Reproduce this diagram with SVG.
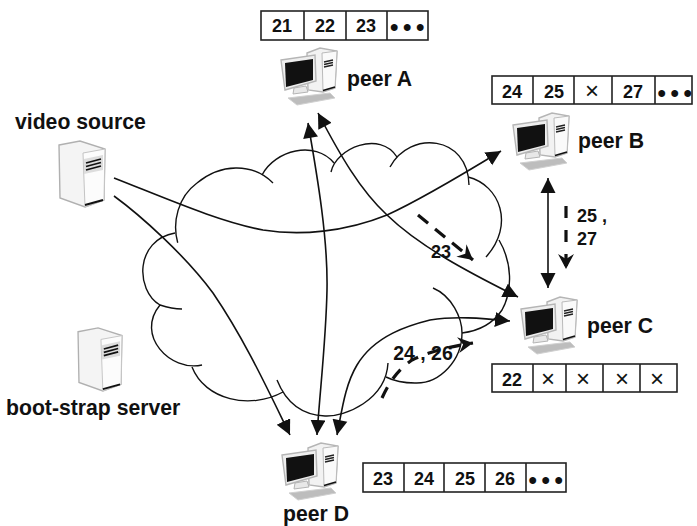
<svg xmlns="http://www.w3.org/2000/svg" xmlns:xlink="http://www.w3.org/1999/xlink" width="697" height="526" viewBox="0 0 697 526">
<style>
text{font-family:"Liberation Sans",Arial,sans-serif;fill:#111}
.lbl{font-size:21.200px;font-weight:bold}
.num{font-size:18px;font-weight:bold;text-anchor:middle}
.x{font-size:24px;font-weight:normal;text-anchor:middle}
.dots{font-size:24px;font-weight:bold;text-anchor:middle;letter-spacing:4.600px}
.cell{fill:#fff;stroke:#222;stroke-width:1.6}
.div{stroke:#222;stroke-width:1.6}
.cloud path{fill:none;stroke:#111;stroke-width:1.4}
.arrow{fill:none;stroke:#111;stroke-width:1.6}
.dash{fill:none;stroke:#111;stroke-width:3.2}
</style>
<defs>
<marker id="head" markerUnits="userSpaceOnUse" markerWidth="16" markerHeight="16" refX="15" refY="7.5" orient="auto" viewBox="0 0 16 16">
<path d="M0,0L15,7.5L0,15z" fill="#111"/>
</marker>
<marker id="headS" markerUnits="userSpaceOnUse" markerWidth="16" markerHeight="16" refX="0" refY="7.5" orient="auto" viewBox="0 0 16 16">
<path d="M15,0L0,7.5L15,15z" fill="#111"/>
</marker>
<marker id="chev" markerUnits="userSpaceOnUse" markerWidth="18" markerHeight="18" refX="15" refY="8" orient="auto" viewBox="0 0 18 18">
<path d="M0,0L15,8L0,16L5,8z" fill="#111"/>
</marker>
<symbol id="pc" width="57" height="59" viewBox="0 0 57 59" overflow="visible">
<path d="M27,5L40,0L57,3L55,40L43,44L28,42z" fill="#f2f2f2" stroke="#b5b5b5" stroke-width="1.4"/>
<path d="M42,5L57,3L55,40L43,43z" fill="#fafafa" stroke="#bbb" stroke-width="1"/>
<path d="M44,14L53,12M44,16.500L53,14.500M44,19L53,17" stroke="#222" stroke-width="1.300"/>
<path d="M43,42.500L55,39" stroke="#111" stroke-width="1.600"/>
<path d="M14,40L13,46L28,44L26,38z" fill="#e8e8e8" stroke="#b5b5b5"/>
<path d="M1,12L35,7L36,33L5,42z" fill="#eee" stroke="#b5b5b5" stroke-width="1.400"/>
<path d="M5,15L33,11L33,32L6,39z" fill="#111"/>
<path d="M8,50L50,45L55,50L17,57z" fill="#bdbdbd" stroke="#d0d0d0"/>
</symbol>
<symbol id="srv" width="46" height="67" viewBox="0 0 46 67" overflow="visible">
<path d="M0,5L21,1L46,9L45,60L26,67L1,58z" fill="#f4f4f4" stroke="#b0b0b0" stroke-width="1.400"/>
<path d="M24,13L46,9L45,60L26,67z" fill="#fcfcfc" stroke="#c4c4c4"/>
<path d="M25,19L44,15L44,30L25,34z" fill="#ddd"/>
<path d="M27,23L42,19M27,26.500L42,22.500M27,30L42,26" stroke="#111" stroke-width="1.800"/>
<path d="M26,65L44,60" stroke="#111" stroke-width="2"/>
</symbol>
</defs>
<rect width="697" height="526" fill="#fff"/>
<g id="cloud" class="cloud">
<path d="M177.700,242.700C172,222 178,197 197,183C220,164 252,162 273,183"/>
<path d="M262,175C275,150 315,140 334,163"/>
<path d="M331,172C336,148 380,130 397,157"/>
<path d="M390,167C410,130 468,135 469,185"/>
<path d="M468,177C500,185 515,225 486,257"/>
<path d="M499,240C512,262 513,290 502,310C492,325 478,331 462,333"/>
<path d="M433,288C452,296 462,318 462,333C462,360 440,384 415,383C403,383 392,380 386,377"/>
<path d="M388,363C386,400 345,417 325,416C300,415 285,400 277,380"/>
<path d="M283,392C250,410 205,400 192,367"/>
<path d="M202,365C170,372 135,335 160,305C166,307 172,309 182,309"/>
<path d="M160,305C135,290 135,240 175,233"/>
</g>
<g id="connectors">
<path class="arrow" marker-end="url(#head)" d="M114,178C170,200 220,222 263,230C300,236 345,232 387,215C420,200 460,176 501,151"/>
<path class="arrow" marker-end="url(#head)" d="M114,196C140,215 185,255 213,293C245,340 268,390 290,435"/>
<path class="arrow" marker-start="url(#headS)" marker-end="url(#head)" d="M308,123C318,180 328,240 327,290C326,340 320,390 317,435"/>
<path class="arrow" marker-start="url(#headS)" marker-end="url(#head)" d="M318,113C340,155 360,190 387,215C420,247 470,273 518,297"/>
<path class="arrow" marker-start="url(#headS)" marker-end="url(#head)" d="M337,435C342,410 345,385 357,365C375,335 410,325 430,320C455,316 480,318 510,321"/>
<path class="arrow" marker-start="url(#headS)" marker-end="url(#head)" d="M548,178V288"/>
<path class="dash" stroke-dasharray="13,9" marker-end="url(#chev)" d="M418,215L473,260"/>
<path class="dash" stroke-dasharray="12,10" marker-end="url(#chev)" d="M382,398C390,380 400,368 412,360C428,352 452,346 473,343"/>
<path class="dash" stroke-dasharray="12,12" marker-end="url(#chev)" d="M566,206V269"/>
</g>
<g id="video-source"><use href="#srv" xlink:href="#srv" x="59" y="140"/><text class="lbl" x="15" y="129">video source</text></g>
<g id="boot-strap-server"><use href="#srv" xlink:href="#srv" x="77" y="327" width="46" height="64"/><text class="lbl" x="6" y="415">boot-strap server</text></g>
<g id="peer-A"><use href="#pc" xlink:href="#pc" x="280" y="48"/><text class="lbl" x="347" y="86">peer A</text>
<rect class="cell" x="261" y="11" width="167" height="29"/><path class="div" d="M304,11V40M346,11V40M387,11V40"/>
<text class="num" x="282" y="32">21</text><text class="num" x="325" y="32">22</text><text class="num" x="366" y="32">23</text><text class="dots" x="409.500" y="35">•••</text></g>
<g id="peer-B"><use href="#pc" xlink:href="#pc" x="512" y="113"/><text class="lbl" x="578" y="148">peer B</text>
<rect class="cell" x="492" y="76" width="200" height="28"/><path class="div" d="M533,76V104M574,76V104M612,76V104M655,76V104"/>
<text class="num" x="512" y="98">24</text><text class="num" x="554" y="98">25</text><text class="x" x="592" y="99">×</text><text class="num" x="633" y="98">27</text><text class="dots" x="677" y="101">•••</text></g>
<g id="peer-C"><use href="#pc" xlink:href="#pc" x="520" y="297"/><text class="lbl" x="587" y="333">peer C</text>
<rect class="cell" x="492" y="364" width="185" height="28"/><path class="div" d="M533,364V392M566,364V392M603,364V392M640,364V392"/>
<text class="num" x="512" y="386">22</text><text class="x" x="548" y="387">×</text><text class="x" x="583" y="387">×</text><text class="x" x="622" y="387">×</text><text class="x" x="657" y="387">×</text></g>
<g id="peer-D"><use href="#pc" xlink:href="#pc" x="281" y="443"/><text class="lbl" x="283" y="521">peer D</text>
<rect class="cell" x="363" y="463" width="203" height="29"/><path class="div" d="M404,463V492M444,463V492M485,463V492M526,463V492"/>
<text class="num" x="383" y="485">23</text><text class="num" x="424" y="485">24</text><text class="num" x="465" y="485">25</text><text class="num" x="505" y="485">26</text><text class="dots" x="548" y="488">•••</text></g>
<g id="connector-labels">
<text class="num" x="441" y="258">23</text>
<text class="num" x="423" y="360" style="font-size:19.5px">24 , 26</text>
<text class="num" x="577" y="222" style="text-anchor:start">25 ,</text>
<text class="num" x="577" y="245" style="text-anchor:start">27</text>
</g>
</svg>
